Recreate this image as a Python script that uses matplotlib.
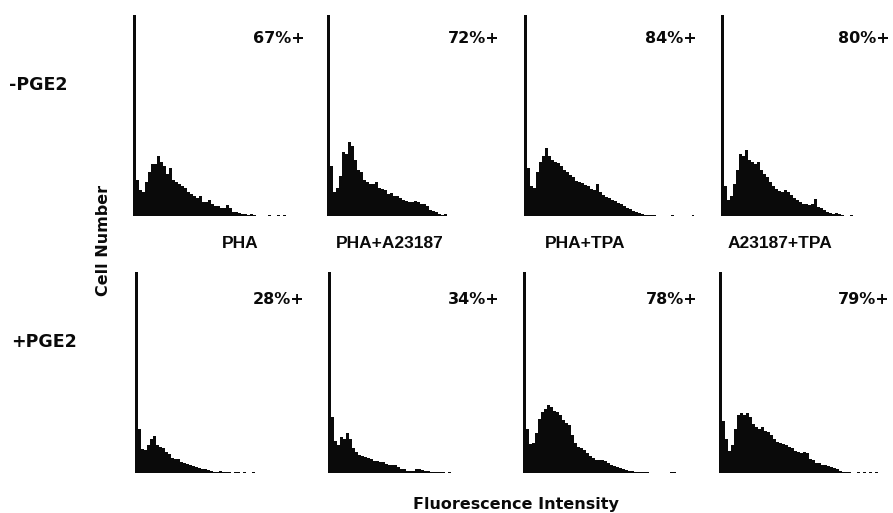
import numpy as np
import matplotlib
matplotlib.use("Agg")
import matplotlib.pyplot as plt

W, H = 893, 513

# ---- data (cell counts per channel, % of panel height) ----
row_labels = ["-PGE2", "+PGE2"]
col_labels = ["PHA", "PHA+A23187", "PHA+TPA", "A23187+TPA"]
pct_minus = ["67%+", "72%+", "84%+", "80%+"]
pct_plus = ["28%+", "34%+", "78%+", "79%+"]

pha_minus = [100, 18, 13, 12, 17, 22, 26, 26, 30, 27, 25, 21, 24, 18, 17, 16, 15, 14, 12, 11,
             10, 9, 10, 7, 7, 8, 6, 5, 5, 4, 4, 5.5, 4, 2, 2, 1.5, 1, 0.8, 0.5, 1, 0.3,
             0, 0, 0, 0, 0.3, 0, 0, 0.3, 0, 0.3]
pha_a23187_minus = [100, 25, 12, 14, 20, 32, 31, 37, 35, 28, 23, 22, 18, 17, 16, 16, 17, 14, 13.5, 13,
                    11, 11.5, 10, 10, 9, 8, 7.5, 7, 7, 7.5, 7, 6, 6, 5, 3, 2.5, 2, 1, 0.3, 0.8, 0.2]
pha_tpa_minus = [100, 24, 15, 14, 22, 27, 30, 34, 30, 28, 27, 26.5, 25, 23, 22, 20.5, 19.5, 17.5, 17, 16.5,
                 15.5, 15, 13.5, 13, 16, 12, 10.5, 9.5, 9, 8, 7.5, 6.5, 6, 5, 4, 3.5, 2.5, 2, 1.3, 1,
                 0.6, 0.4, 0.4, 0.4, 0, 0, 0, 0, 0, 0.3, 0, 0, 0, 0, 0, 0, 0.3]
a23187_tpa_minus = [100, 15, 8, 10, 16, 23, 31, 30, 33, 28, 27, 26, 27, 23, 21, 19.5, 17, 15, 13.5, 12.5,
                    12, 13, 12, 10.5, 9, 8, 7, 6, 6, 5.5, 6, 8.5, 4.5, 4, 3, 2, 1.5, 1, 1.3, 1,
                    0.4, 0, 0, 0.3]
pha_plus = [100, 22, 12, 11.5, 14, 17, 18.5, 14, 13, 12.5, 10.5, 9.5, 7.5, 7, 7, 5.5, 5, 4.5, 4, 3.5,
            3, 2.5, 2, 1.8, 1.5, 1.2, 0.6, 0.5, 0.8, 0.6, 0.3, 0.4, 0, 0.3, 0.3, 0, 0.3, 0.2, 0, 0.3,
            0, 0, 0.2, 0]
pha_a23187_plus = [100, 28, 16, 14, 18, 17, 20, 17, 12.5, 10.5, 9, 8.5, 8, 7.5, 7, 6, 5.8, 5.5, 5.5, 4.5,
                   4, 4, 3.8, 3, 2, 1.8, 1.2, 0.8, 1.2, 2, 1.8, 1.5, 1.2, 0.8, 0.7, 0.6, 0.5, 0.4, 0.3, 0.2, 0.3]
pha_tpa_plus = [100, 22, 14.5, 15, 20, 27, 30.5, 32, 34, 33, 31, 30.5, 29, 26.5, 25, 24, 19, 15, 13, 12.5,
                11.5, 10, 8.5, 7.5, 6.5, 6.5, 6.5, 6, 5, 4, 3.5, 3, 2.6, 2, 1.6, 1.2, 1, 0.7, 0.6, 0.4,
                0.3, 0.3, 0.2, 0.2, 0, 0, 0, 0, 0, 0.3, 0.3, 0]
a23187_tpa_plus = [100, 26, 17, 11, 14, 22, 29, 30, 29, 30, 28, 24.5, 23, 22, 23, 21, 20.5, 19, 17, 15.5,
                   15, 14.5, 14, 13, 12.2, 11, 10.5, 10, 10.5, 10, 7, 6.5, 5.2, 5, 4, 3.8, 3.3, 3, 2.5, 2,
                   0.8, 0.5, 0.5, 0.4, 0, 0, 0.3, 0, 0.3, 0, 0.3, 0, 0.3]

rows = [
    [pha_minus, pha_a23187_minus, pha_tpa_minus, a23187_tpa_minus],
    [pha_plus, pha_a23187_plus, pha_tpa_plus, a23187_tpa_plus],
]
pcts = [pct_minus, pct_plus]

# ---- layout (pixels) ----
panel_left = [[133, 327, 524, 721], [135, 328, 523, 719]]
panel_top = [15, 272]
panel_h = 201
panel_w = 170
bin_px = 3
pct_right = [[305, 500, 697, 890], [305, 500, 698, 890]]
pct_y = [39, 299]

fig = plt.figure(figsize=(W / 100, H / 100), dpi=100)
fig.patch.set_facecolor("white")

def fx(x):
    return x / W

def fy(y):
    return 1 - y / H

INK = "#0a0a0a"

for r in range(2):
    for c in range(4):
        left = panel_left[r][c]
        top = panel_top[r]
        ax = fig.add_axes([fx(left), fy(top + panel_h), panel_w / W, panel_h / H])
        vals = np.array(rows[r][c], dtype=float)
        ax.bar(np.arange(len(vals)), vals, width=1.0, align="edge",
               color=INK, linewidth=0)
        ax.set_xlim(0, panel_w / bin_px)
        ax.set_ylim(0, 100)
        ax.axis("off")
        fig.text(fx(pct_right[r][c]), fy(pct_y[r]), pcts[r][c], ha="right", va="center",
                 fontsize=11.5, fontweight="bold", family="DejaVu Sans", color=INK)

# column labels between rows
col_x = [240, 390, 585, 780]
for c in range(4):
    fig.text(fx(col_x[c]), fy(244), col_labels[c], ha="center", va="center",
             fontsize=12.5, fontweight="bold", family="Liberation Sans", color=INK)

# row labels
fig.text(fx(9), fy(85), row_labels[0], ha="left", va="center",
         fontsize=12.5, fontweight="bold", family="DejaVu Sans", color=INK)
fig.text(fx(11), fy(342), row_labels[1], ha="left", va="center",
         fontsize=12.5, fontweight="bold", family="DejaVu Sans", color=INK)

# axis titles
fig.text(fx(103), fy(240), "Cell Number", ha="center", va="center", rotation=90,
         fontsize=11.5, fontweight="bold", family="DejaVu Sans", color=INK)
fig.text(fx(516), fy(505), "Fluorescence Intensity", ha="center", va="center",
         fontsize=11.5, fontweight="bold", family="DejaVu Sans", color=INK)

fig.savefig("out.png", dpi=100, facecolor="white")
